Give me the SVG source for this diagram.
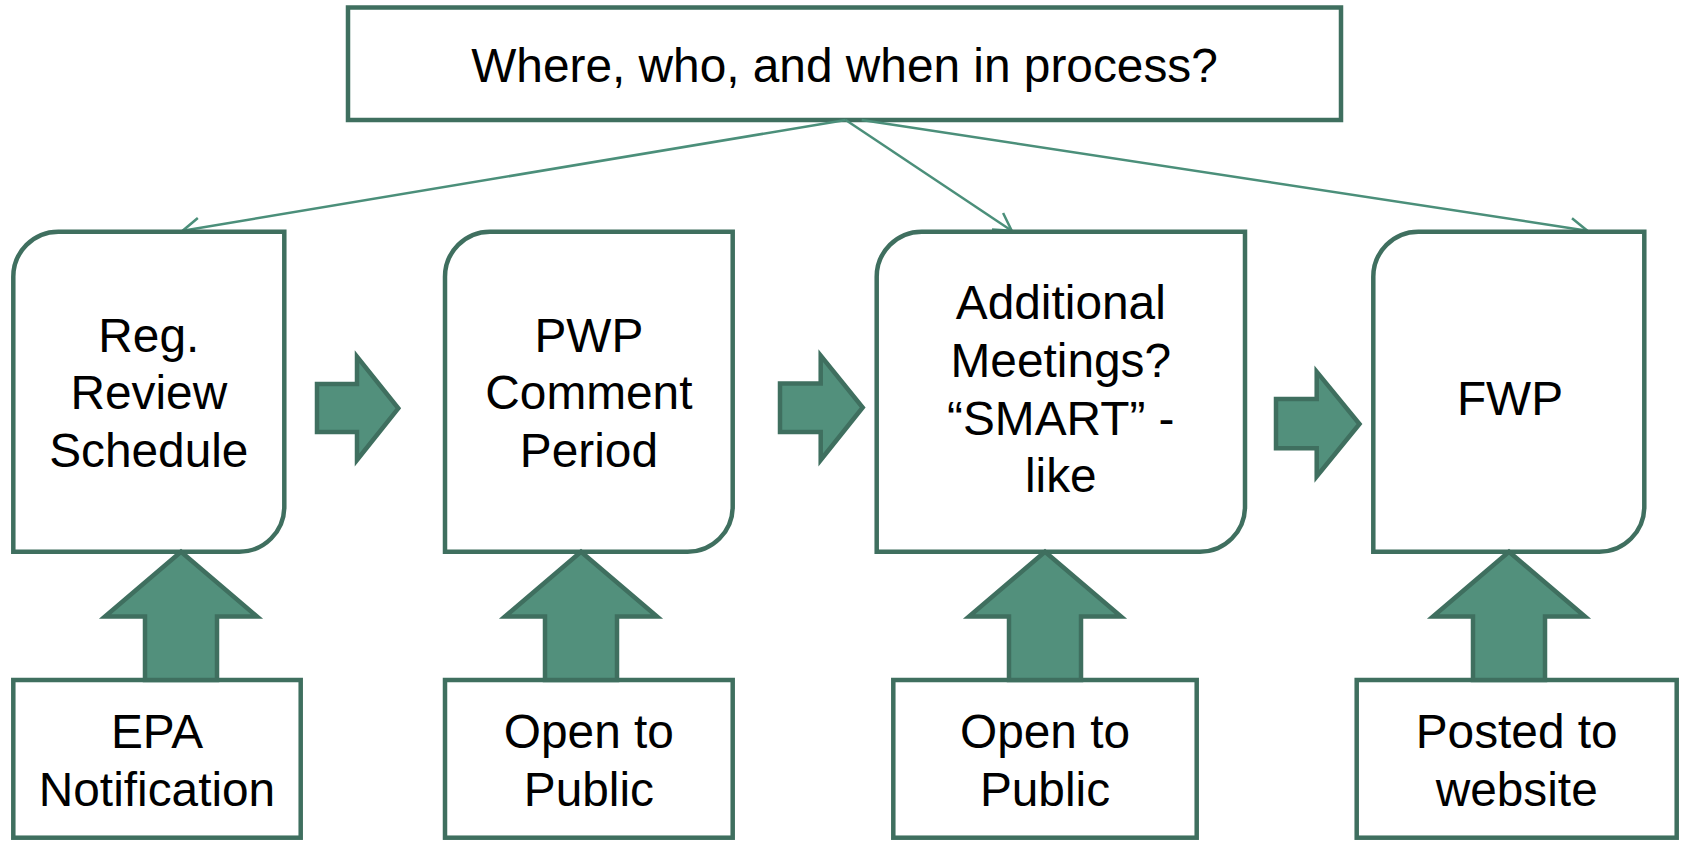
<svg xmlns="http://www.w3.org/2000/svg" width="1681" height="841" viewBox="0 0 1681 841">
<defs>
<style>
.box{fill:#FFFFFF;stroke:#3F6F5F;stroke-width:4.5;stroke-linejoin:miter}
.blk{fill:#52907C;stroke:#3F6F5F;stroke-width:4.5;stroke-linejoin:miter}
.con{fill:none;stroke:#4B8F7A;stroke-width:2.5}
.t{font-family:"Liberation Sans",Arial,sans-serif;font-size:47.8px;fill:#000000;text-anchor:middle}
</style>
<marker id="open" markerUnits="userSpaceOnUse" markerWidth="40" markerHeight="40" viewBox="-20 -20 40 40" refX="0" refY="0" orient="auto" overflow="visible">
<path d="M -17 -10 L 0 0 L -17 10" fill="none" stroke="#4B8F7A" stroke-width="2.5"/>
</marker>
</defs>
<rect width="1681" height="841" fill="#FFFFFF"/>

<g id="top">
<rect class="box" x="348" y="7.5" width="993" height="112.5"/>
<text class="t" x="844.5" y="82">Where, who, and when in process?</text>
</g>

<g id="connectors">
<line class="con" x1="845.7" y1="120" x2="182.7" y2="230.7" marker-end="url(#open)"/>
<line class="con" x1="845.7" y1="120" x2="1011.7" y2="230.7" marker-end="url(#open)"/>
<line class="con" x1="861.7" y1="120" x2="1587.3" y2="230.7" marker-end="url(#open)"/>
</g>

<g id="step1">
<path class="box" d="M58.3 231.7 H284.3 V506.7 A45 45 0 0 1 239.3 551.7 H13.3 V276.7 A45 45 0 0 1 58.3 231.7 Z"/>
<text class="t" x="148.8" y="351.7">Reg.</text>
<text class="t" x="148.8" y="409.3">Review</text>
<text class="t" x="148.8" y="466.7">Schedule</text>
</g>
<g id="step2">
<path class="box" d="M490 231.7 H732.7 V506.7 A45 45 0 0 1 687.7 551.7 H445 V276.7 A45 45 0 0 1 490 231.7 Z"/>
<text class="t" x="588.9" y="351.7">PWP</text>
<text class="t" x="588.9" y="409.3">Comment</text>
<text class="t" x="588.9" y="466.7">Period</text>
</g>
<g id="step3">
<path class="box" d="M921.7 231.7 H1245 V506.7 A45 45 0 0 1 1200 551.7 H876.7 V276.7 A45 45 0 0 1 921.7 231.7 Z"/>
<text class="t" x="1060.8" y="319.3">Additional</text>
<text class="t" x="1060.8" y="376.7">Meetings?</text>
<text class="t" x="1060.8" y="435">“SMART” -</text>
<text class="t" x="1060.8" y="492.3">like</text>
</g>
<g id="step4">
<path class="box" d="M1418.3 231.7 H1644.3 V506.7 A45 45 0 0 1 1599.3 551.7 H1373.3 V276.7 A45 45 0 0 1 1418.3 231.7 Z"/>
<text class="t" x="1510" y="415">FWP</text>
</g>

<g id="input1">
<rect class="box" x="13.3" y="680" width="287.4" height="157.7"/>
<text class="t" x="157" y="748.3">EPA</text>
<text class="t" x="157" y="805.7">Notification</text>
</g>
<g id="input2">
<rect class="box" x="445" y="680" width="287.7" height="157.7"/>
<text class="t" x="588.9" y="748.3">Open to</text>
<text class="t" x="588.9" y="805.7">Public</text>
</g>
<g id="input3">
<rect class="box" x="893.3" y="680" width="303.4" height="157.7"/>
<text class="t" x="1045" y="748.3">Open to</text>
<text class="t" x="1045" y="805.7">Public</text>
</g>
<g id="input4">
<rect class="box" x="1356.7" y="680" width="320" height="157.7"/>
<text class="t" x="1516.7" y="748.3">Posted to</text>
<text class="t" x="1516.7" y="805.7">website</text>
</g>

<g id="flow-arrows">
<polygon class="blk" points="317,384 357,384 357,356.7 398.3,408.3 357,460 357,432 317,432"/>
<polygon class="blk" points="780,383.5 820.7,383.5 820.7,355.5 862.7,407.5 820.7,460 820.7,432 780,432"/>
<polygon class="blk" points="1276,399 1316.7,399 1316.7,371.7 1359.5,424 1316.7,476.5 1316.7,448.3 1276,448.3"/>
</g>

<g id="up-arrows">
<polygon class="blk" points="181,551.7 257,616.5 217,616.5 217,680 145,680 145,616.5 105,616.5"/>
<polygon class="blk" points="581,551.7 657,616.5 617,616.5 617,680 545,680 545,616.5 505,616.5"/>
<polygon class="blk" points="1045,551.7 1121,616.5 1081,616.5 1081,680 1009,680 1009,616.5 969,616.5"/>
<polygon class="blk" points="1509,551.7 1585,616.5 1545,616.5 1545,680 1473,680 1473,616.5 1433,616.5"/>
</g>
</svg>
